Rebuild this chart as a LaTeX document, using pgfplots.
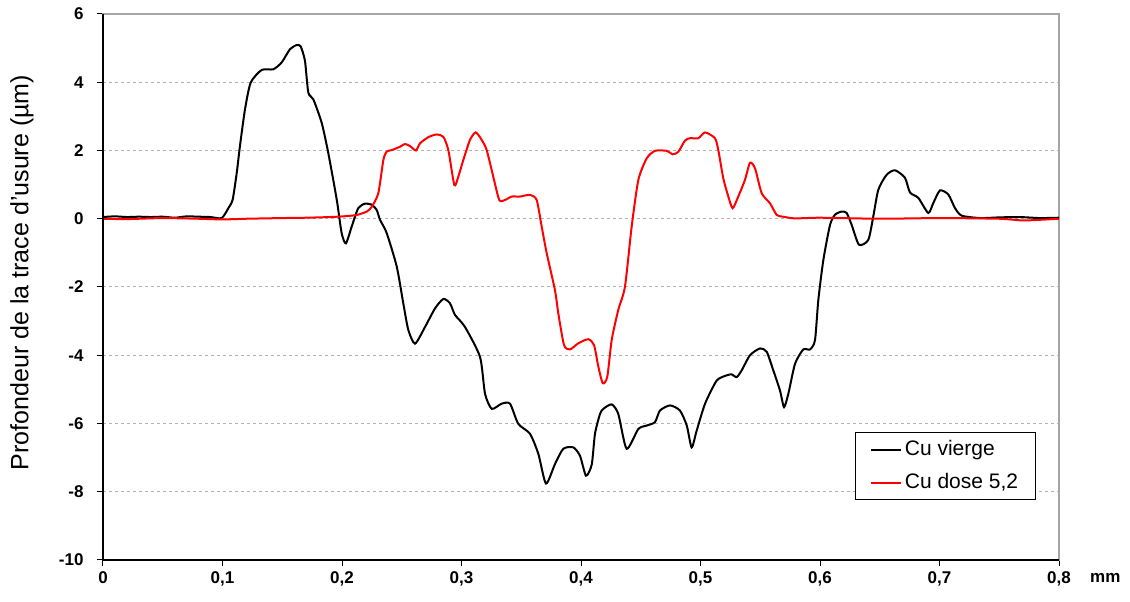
\documentclass[border=0pt]{standalone}
\usepackage{fontspec}
\setmainfont{Liberation Sans}
\usepackage{pgfplots}
\pgfplotsset{compat=1.18}
\begin{document}
\begin{tikzpicture}
\useasboundingbox (0,0) rectangle (1130pt,602pt);
\begin{axis}[
  at={(103pt,42pt)}, anchor=south west,
  scale only axis, width=956pt, height=546pt,
  xmin=0, xmax=0.8, ymin=-10, ymax=6,
  xtick={0,0.1,0.2,0.3,0.4,0.5,0.6,0.7,0.8},
  xticklabels={0,{0,1},{0,2},{0,3},{0,4},{0,5},{0,6},{0,7},{0,8}},
  ytick={-10,-8,-6,-4,-2,0,2,4,6},
  yticklabels={-10,-8,-6,-4,-2,0,2,4,6},
  tick align=outside, major tick length=6pt,
  tick style={black, line width=1pt},
  xtick pos=bottom, ytick pos=left,
  ticklabel style={font=\bfseries\fontsize{17}{17}\selectfont},
  xticklabel style={text height=12pt, text depth=0pt, yshift=-2pt},
  yticklabel style={xshift=-10pt},
  ymajorgrids, grid style={gray!60, line width=1pt, dash pattern=on 3pt off 3pt},
  axis line style={draw=gray!70, line width=1.5pt},
  ylabel={Profondeur de la trace d'usure (µm)},
  ylabel style={font=\fontsize{25}{25}\selectfont, at={(rel axis cs:-0.0847,0.5266)}, anchor=center},
  legend style={at={(rel axis cs:0.787,0.234)}, anchor=north west, draw=black, line width=1pt,
    font=\fontsize{21}{21}\selectfont, row sep=8pt, inner xsep=14pt, inner ysep=4.5pt,
    nodes={inner sep=3pt, text height=15pt, text depth=4pt}},
  legend cell align=left,
  legend image code/.code={\draw[#1, line width=2pt] (0pt,0pt) -- (30pt,0pt);},
  clip=false,
]
\addplot[black, line width=2pt, smooth, tension=0.4] coordinates {
(0,0.05)(0.01,0.07)(0.02,0.05)(0.03,0.06)(0.04,0.05)(0.05,0.06)(0.06,0.03)(0.07,0.07)(0.08,0.06)(0.09,0.05)(0.0993,0.02)
(0.1049,0.31)(0.1085,0.56)(0.1119,1.34)(0.1146,2.13)(0.1188,3.2)(0.1236,3.99)(0.1328,4.36)(0.1425,4.38)
(0.1495,4.58)(0.1565,4.97)(0.1621,5.09)(0.1654,5.05)(0.1690,4.63)(0.1718,3.70)(0.1760,3.5)(0.1830,2.81)
(0.1885,1.93)(0.1956,0.56)(0.1997,-0.42)(0.2033,-0.72)(0.2081,-0.23)(0.2136,0.31)(0.2192,0.44)(0.2249,0.41)
(0.2290,0.26)(0.2318,-0.03)(0.2374,-0.42)(0.2458,-1.4)(0.2513,-2.48)(0.2555,-3.26)(0.2611,-3.66)(0.2695,-3.17)
(0.2778,-2.63)(0.2848,-2.35)(0.2904,-2.48)(0.2946,-2.82)(0.3029,-3.17)(0.3155,-4.05)(0.3197,-5.13)(0.3253,-5.57)
(0.3336,-5.42)(0.3406,-5.42)(0.3475,-6.01)(0.3573,-6.3)(0.3643,-6.89)(0.3707,-7.76)(0.3782,-7.19)(0.3852,-6.74)
(0.3936,-6.7)(0.3992,-6.95)(0.4042,-7.53)(0.4090,-7.2)(0.4117,-6.3)(0.4159,-5.72)(0.4187,-5.57)(0.4257,-5.44)
(0.4312,-5.72)(0.4382,-6.74)(0.4480,-6.16)(0.4550,-6.06)(0.4619,-5.96)(0.4661,-5.62)(0.4745,-5.47)(0.4828,-5.62)
(0.4885,-6.06)(0.4926,-6.7)(0.4968,-6.21)(0.5038,-5.42)(0.5136,-4.74)(0.5219,-4.59)(0.5261,-4.56)(0.5303,-4.64)
(0.5345,-4.44)(0.5414,-4.0)(0.5498,-3.8)(0.5554,-3.9)(0.5609,-4.44)(0.5665,-5.03)(0.5699,-5.52)(0.5735,-5.13)
(0.5791,-4.25)(0.5860,-3.83)(0.5916,-3.83)(0.5958,-3.56)(0.5986,-2.38)(0.6028,-1.21)(0.6084,-0.18)(0.6126,0.12)
(0.6182,0.21)(0.6223,0.17)(0.6265,-0.18)(0.6326,-0.76)(0.6404,-0.62)(0.6446,0.07)(0.6488,0.85)(0.6558,1.29)
(0.6628,1.42)(0.6711,1.2)(0.6753,0.77)(0.6823,0.61)(0.6906,0.17)(0.6948,0.46)(0.7004,0.83)(0.7074,0.71)
(0.7130,0.31)(0.7186,0.09)(0.734,0.02)(0.75,0.04)(0.767,0.05)(0.784,0.02)(0.8,0.03)
};
\addlegendentry{Cu vierge}
\addplot[red, line width=2pt, smooth, tension=0.4] coordinates {
(0,0)(0.02,-0.01)(0.05,0.02)(0.08,0.0)(0.1,-0.02)(0.12,0.0)(0.15,0.02)(0.17,0.03)(0.19,0.05)
(0.2011,0.07)(0.2123,0.11)(0.2207,0.21)(0.2249,0.35)(0.2304,0.75)(0.2346,1.72)(0.2374,1.97)(0.2416,2.01)
(0.2485,2.11)(0.2527,2.19)(0.2569,2.13)(0.2619,2.0)(0.2653,2.21)(0.2722,2.39)(0.2792,2.47)(0.2848,2.40)
(0.2890,2.01)(0.2940,0.99)(0.2973,1.23)(0.3015,1.72)(0.3071,2.31)(0.3119,2.53)(0.3169,2.31)(0.3211,2.01)
(0.3266,1.23)(0.3316,0.55)(0.3364,0.55)(0.3420,0.65)(0.3490,0.65)(0.3573,0.70)(0.3629,0.55)(0.3671,-0.23)
(0.3713,-1.01)(0.3782,-2.09)(0.3810,-2.77)(0.3858,-3.70)(0.3908,-3.83)(0.3977,-3.65)(0.4061,-3.53)(0.4109,-3.70)
(0.4145,-4.33)(0.4182,-4.82)(0.4220,-4.63)(0.4257,-3.55)(0.4312,-2.67)(0.4368,-1.99)(0.4424,-0.23)(0.4480,1.14)
(0.4550,1.77)(0.4619,1.99)(0.4717,1.99)(0.4767,1.89)(0.4814,1.96)(0.4870,2.29)(0.4912,2.36)(0.4982,2.36)
(0.5038,2.53)(0.5121,2.36)(0.5149,2.01)(0.5191,1.18)(0.5233,0.65)(0.5269,0.31)(0.5316,0.65)(0.5372,1.14)
(0.5414,1.64)(0.5456,1.48)(0.5512,0.75)(0.5582,0.45)(0.5638,0.11)(0.5693,0.06)(0.5791,0.01)(0.6,0.03)
(0.65,0.0)(0.7,0.02)(0.75,0.0)(0.77,-0.05)(0.79,-0.02)(0.8,0.0)
};
\addlegendentry{Cu dose 5,2}
\draw[black, line width=1.5pt] (rel axis cs:0,1) -- (rel axis cs:0,0) -- (rel axis cs:1,0);
\node[anchor=base west, inner sep=0pt, font=\bfseries\fontsize{17}{17}\selectfont] at ([xshift=31pt, yshift=-23pt]rel axis cs:1,0) {mm};
\end{axis}
\end{tikzpicture}
\end{document}
